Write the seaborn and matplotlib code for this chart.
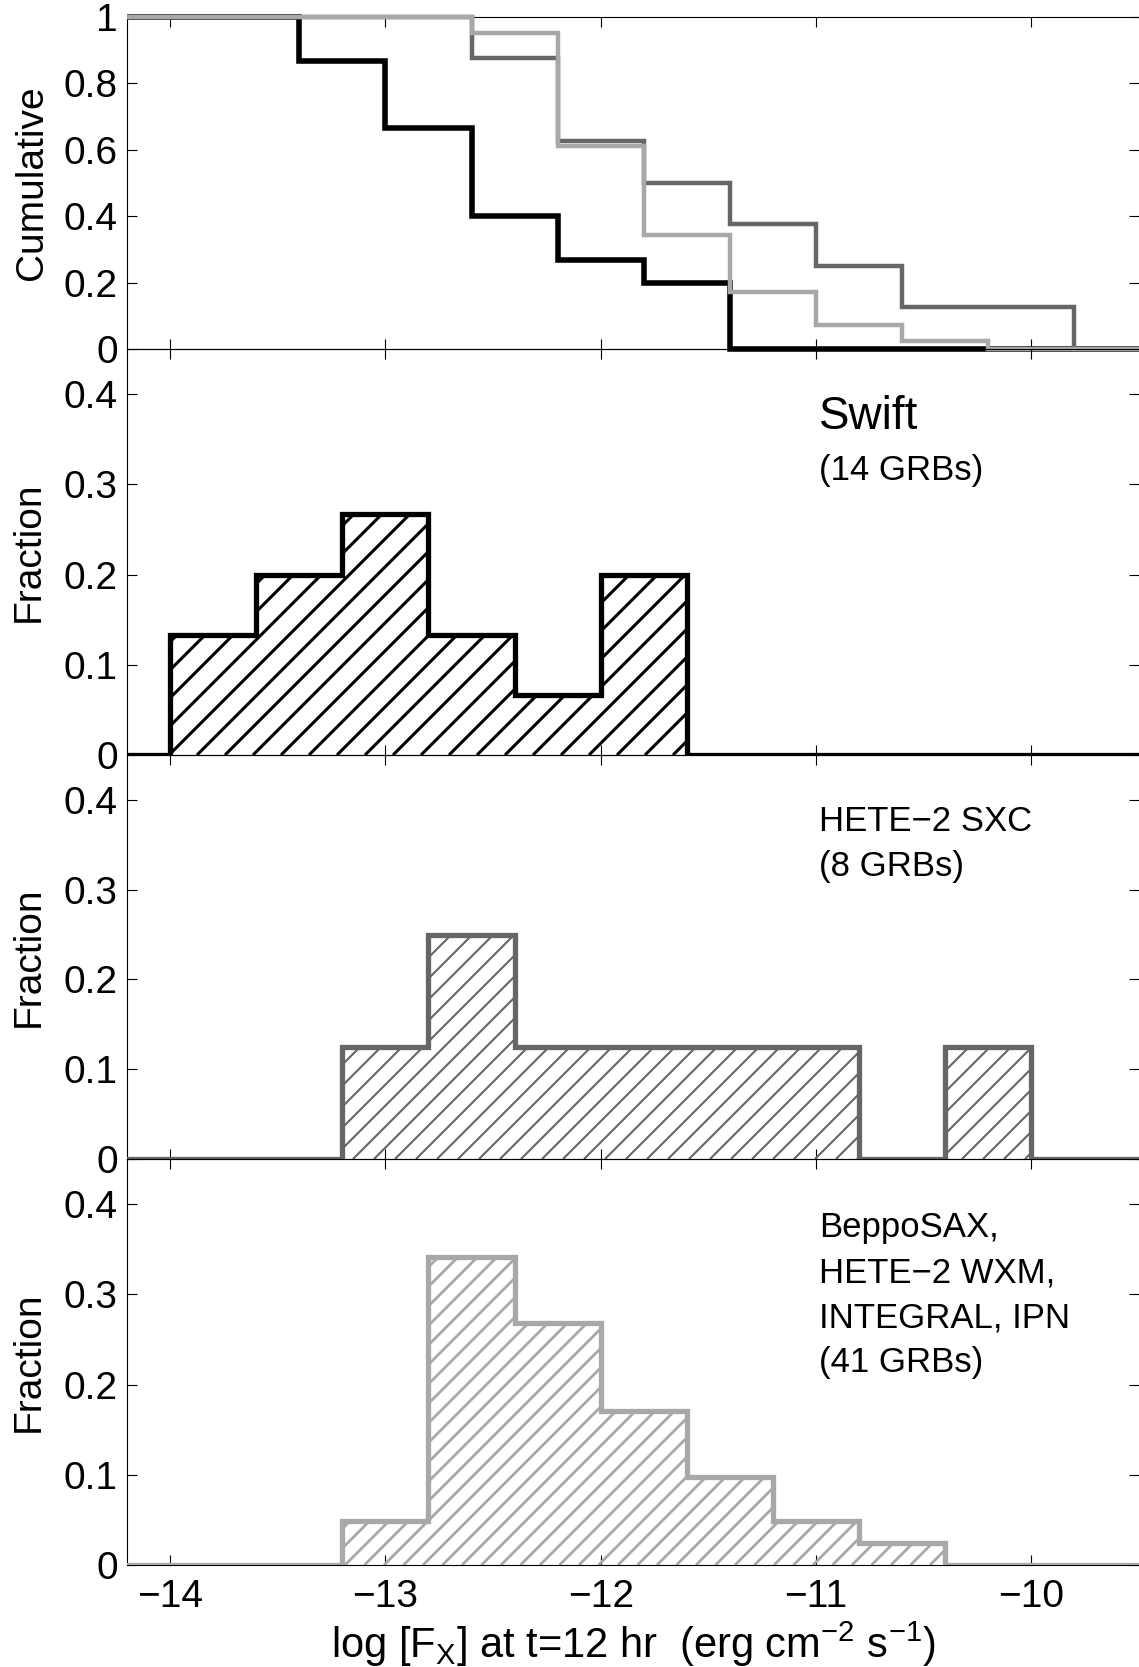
import numpy as np
import matplotlib
matplotlib.use("Agg")
import matplotlib.pyplot as plt
import seaborn as sns
from matplotlib.collections import LineCollection
from matplotlib.transforms import Affine2D

# ---------------- data ----------------
bin_width = 0.4
swift_start = -14.0
swift_frac = [0.133, 0.200, 0.267, 0.133, 0.067, 0.200]
hete_start = -13.2
hete_frac = [0.125, 0.250, 0.125, 0.125, 0.125, 0.125, 0.0, 0.125]
beppo_start = -13.2
beppo_frac = [0.049, 0.341, 0.268, 0.171, 0.098, 0.049, 0.024]

series_colors = ["#000000", "#666666", "#a8a8a8"]
hatch_spacing_px = [28, 21, 19.5]
hatch_lw = [2.2, 1.5, 2.0]
cum_lw = [4.0, 3.2, 3.2]

x_ticks = [-14, -13, -12, -11, -10]
cum_yticks = [0, 0.2, 0.4, 0.6, 0.8, 1]
cum_yticklabels = ["0", "0.2", "0.4", "0.6", "0.8", "1"]
frac_yticks = [0, 0.1, 0.2, 0.3, 0.4]
frac_yticklabels = ["0", "0.1", "0.2", "0.3", "0.4"]

panel_title_main = ["Swift", None, None]
panel_texts = [["(14 GRBs)"],
               ["HETE\u22122 SXC", "(8 GRBs)"],
               ["BeppoSAX,", "HETE\u22122 WXM,", "INTEGRAL, IPN", "(41 GRBs)"]]
xlabel = r"log [F$_{\mathrm{X}}$] at t=12 hr  (erg cm$^{-2}$ s$^{-1}$)"

XMIN, XMAX = -14.2, -9.5

# ---------------- style ----------------
sns.set_style("ticks")
plt.rcParams["font.family"] = ["Liberation Sans", "DejaVu Sans"]
plt.rcParams["mathtext.fontset"] = "custom"
plt.rcParams["mathtext.rm"] = "Liberation Sans"
plt.rcParams["mathtext.it"] = "Liberation Sans:italic"
plt.rcParams["mathtext.bf"] = "Liberation Sans:bold"
for k in ["text.color", "axes.labelcolor", "xtick.color", "ytick.color",
          "axes.edgecolor"]:
    plt.rcParams[k] = "black"

W, H, DPI = 1139, 1667, 100
fig = plt.figure(figsize=(W / DPI, H / DPI), dpi=DPI)
fig.patch.set_facecolor("white")


def px_axes(top, bottom, left=127, right=1139):
    ax = fig.add_axes([left / W, 1 - bottom / H, (right - left) / W, (bottom - top) / H])
    ax.set_facecolor("none")
    return ax


ax0 = px_axes(17, 349)
ax1 = px_axes(349, 755)
ax2 = px_axes(755, 1159)
ax3 = px_axes(1159, 1565)
hist_axes = [ax1, ax2, ax3]
all_axes = [ax0, ax1, ax2, ax3]

starts = [swift_start, hete_start, beppo_start]
fracs = [swift_frac, hete_frac, beppo_frac]


def extended(start, frac, lo=-14.4, hi=-9.2):
    n_left = int(round((start - lo) / bin_width))
    vals = np.concatenate([np.zeros(n_left), np.asarray(frac, float)])
    n_total = int(round((hi - lo) / bin_width))
    vals = np.concatenate([vals, np.zeros(max(n_total - len(vals), 0))])
    edges = lo + bin_width * np.arange(len(vals) + 1)
    return edges, vals


def add_hatch(ax, patch, spacing, color, lw):
    bb = ax.get_position()
    wpx, hpx = bb.width * W, bb.height * H
    offsets = np.arange(-hpx, wpx + spacing, spacing)
    segs = [[(o, 0.0), (o + hpx, hpx)] for o in offsets]
    tr = Affine2D().scale(1.0 / wpx, 1.0 / hpx) + ax.transAxes
    lc = LineCollection(segs, colors=color, linewidths=lw, transform=tr)
    lc.set_clip_path(patch)
    ax.add_collection(lc, autolim=False)


# ---------------- histograms ----------------
for ax, start, frac, col, sp, hlw in zip(hist_axes, starts, fracs, series_colors,
                                         hatch_spacing_px, hatch_lw):
    edges_h = start + bin_width * np.arange(len(frac) + 1)
    patch = ax.stairs(frac, edges_h, baseline=0, fill=True, facecolor="none",
                      edgecolor="none", linewidth=0)
    add_hatch(ax, patch, sp, col, hlw)
    e, v = extended(start, frac)
    sns.lineplot(x=e, y=np.append(v, v[-1]), drawstyle="steps-post", color=col,
                 linewidth=3.8, ax=ax, estimator=None, sort=False,
                 solid_joinstyle="miter", solid_capstyle="butt", zorder=3)

# ---------------- cumulative ----------------
for start, frac, col, lw in zip(starts, fracs, series_colors, cum_lw):
    frac = np.asarray(frac, float)
    drops = start + bin_width * np.arange(1, len(frac) + 1) + bin_width / 2
    levels = np.clip(1 - np.cumsum(frac), 0, 1)
    x = np.concatenate([[XMIN], drops, [XMAX]])
    y = np.concatenate([[1.0], levels, [levels[-1]]])
    sns.lineplot(x=x, y=y, drawstyle="steps-post", color=col, linewidth=lw,
                 ax=ax0, estimator=None, sort=False, clip_on=False,
                 solid_joinstyle="miter", solid_capstyle="butt", zorder=3)

# ---------------- axes styling ----------------
for ax in all_axes:
    ax.set_xlim(XMIN, XMAX)
    ax.set_xticks(x_ticks)
    ax.tick_params(direction="in", length=7, width=0.8, top=True, right=True,
                   bottom=True, left=True, labelsize=28, pad=6.5, colors="black")
    ax.spines["right"].set_visible(False)
    for s in ["left", "top", "bottom"]:
        ax.spines[s].set_linewidth(0.8)
        ax.spines[s].set_color("black")
    ax.grid(False)
    ax.set_xlabel("")

ax0.set_ylim(0, 1)
ax0.set_yticks(cum_yticks)
ax0.set_yticklabels(cum_yticklabels)
ax0.set_ylabel("Cumulative", fontsize=28, va="center", color="black")
ax0.yaxis.set_label_coords(-0.094, 0.5)

for ax in hist_axes:
    ax.set_ylim(0, 0.45)
    ax.set_yticks(frac_yticks)
    ax.set_yticklabels(frac_yticklabels)
    ax.set_ylabel("Fraction", fontsize=28, va="center", color="black")
    ax.yaxis.set_label_coords(-0.097, 0.5)

for ax in [ax0, ax1, ax2]:
    ax.tick_params(labelbottom=False)
ax3.set_xticklabels([f"\u2212{abs(t)}" for t in x_ticks])
ax3.tick_params(axis="x", pad=10)

# ---------------- panel texts ----------------
ax1.text(0.684, 0.803, panel_title_main[0], transform=ax1.transAxes, fontsize=33,
         ha="left", va="baseline", color="black")
ax1.text(0.684, 0.677, panel_texts[0][0], transform=ax1.transAxes, fontsize=25,
         ha="left", va="baseline", color="black")
for i, s in enumerate(panel_texts[1]):
    ax2.text(0.684, 0.812 - i * 0.112, s, transform=ax2.transAxes, fontsize=25,
             ha="left", va="baseline", color="black")
for i, s in enumerate(panel_texts[2]):
    ax3.text(0.684, 0.808 - i * 0.111, s, transform=ax3.transAxes, fontsize=25,
             ha="left", va="baseline", color="black")

fig.text(633 / W, 1 - 1658 / H, xlabel, ha="center", va="baseline", fontsize=30,
         color="black")

fig.savefig("out.png", dpi=DPI, facecolor="white")
